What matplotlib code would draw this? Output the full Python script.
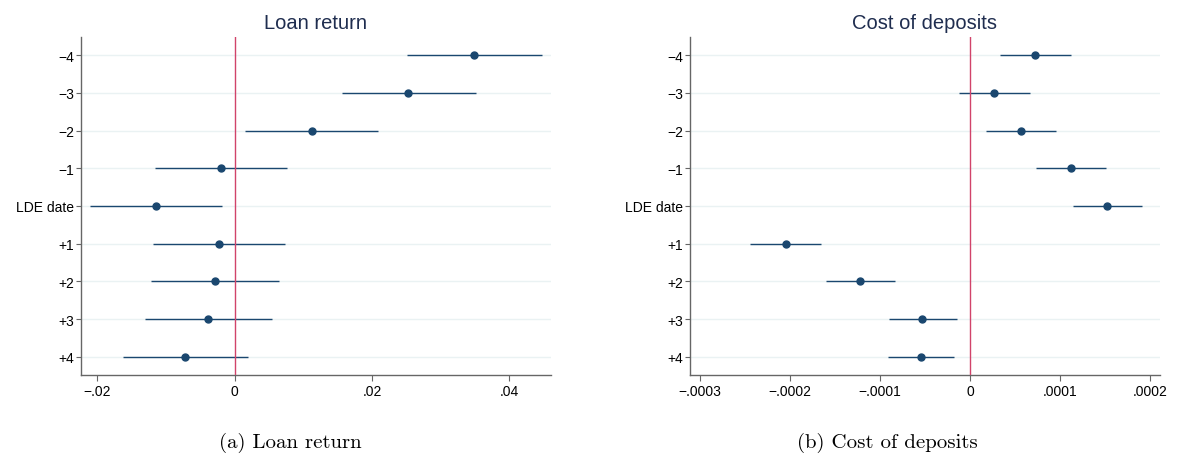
import matplotlib
matplotlib.use("Agg")
import matplotlib.pyplot as plt

plt.rcParams['font.family'] = ['Liberation Sans', 'DejaVu Sans']

# event-time rows, top to bottom
periods = ["\u22124", "\u22123", "\u22122", "\u22121", "LDE date", "+1", "+2", "+3", "+4"]

# loan return: point estimate and 95% CI bounds
loan_coef = [0.0349, 0.0253, 0.0112, -0.0020, -0.0115, -0.0023, -0.0029, -0.0039, -0.0072]
loan_lo = [0.0251, 0.0156, 0.0015, -0.0116, -0.0211, -0.0119, -0.0122, -0.0131, -0.0162]
loan_hi = [0.0448, 0.0351, 0.0209, 0.0076, -0.0019, 0.0073, 0.0065, 0.0054, 0.0019]

# cost of deposits: point estimate and 95% CI bounds
dep_coef = [7.2e-5, 2.7e-5, 5.6e-5, 11.2e-5, 15.2e-5, -20.5e-5, -12.2e-5, -5.3e-5, -5.5e-5]
dep_lo = [3.3e-5, -1.2e-5, 1.8e-5, 7.3e-5, 11.4e-5, -24.4e-5, -16.0e-5, -9.0e-5, -9.1e-5]
dep_hi = [11.2e-5, 6.6e-5, 9.5e-5, 15.1e-5, 19.1e-5, -16.6e-5, -8.3e-5, -1.5e-5, -1.8e-5]

loan_ticks = [-0.02, 0, 0.02, 0.04]
loan_ticklabels = ["\u2212.02", "0", ".02", ".04"]
dep_ticks = [-3e-4, -2e-4, -1e-4, 0, 1e-4, 2e-4]
dep_ticklabels = ["\u2212.0003", "\u2212.0002", "\u2212.0001", "0", ".0001", ".0002"]

NAVY = "#1a476f"
GRID = "#eaf2f3"
RED = "#d1436a"
AXISGRAY = "#666666"


def coefplot(ax, coef, lo, hi, title, xticks, xticklabels, xlim):
    rows = list(range(len(periods)))
    for r in rows:
        ax.axhline(r, color=GRID, lw=1.0, zorder=0)
    for r, c, a, b in zip(rows, coef, lo, hi):
        ax.plot([a, b], [r, r], color=NAVY, lw=1.0, zorder=2, solid_capstyle="butt")
    ax.axvline(0, color=RED, lw=1.0, zorder=3)
    ax.plot(coef, rows, "o", color=NAVY, ms=5, zorder=4, linestyle="none")

    ax.set_ylim(8.49, -0.49)
    ax.set_xlim(*xlim)
    ax.set_yticks(rows)
    ax.set_yticklabels(periods)
    ax.set_xticks(xticks)
    ax.set_xticklabels(xticklabels)
    ax.tick_params(axis="y", length=3.5, width=0.8, color=AXISGRAY, pad=1.5, labelsize=10)
    ax.tick_params(axis="x", length=4, width=0.8, color=AXISGRAY, pad=2.5, labelsize=10)
    for s in ["top", "right"]:
        ax.spines[s].set_visible(False)
    for s in ["left", "bottom"]:
        ax.spines[s].set_color(AXISGRAY)
        ax.spines[s].set_linewidth(1.0)
    ax.set_title(title, fontsize=14.5, color="#1f2d4f", pad=6)


fig = plt.figure(figsize=(11.78, 4.60), dpi=100)
ax1 = fig.add_axes([0.0688, 0.182, 0.3987, 0.736])
ax2 = fig.add_axes([0.5857, 0.182, 0.3987, 0.736])

coefplot(ax1, loan_coef, loan_lo, loan_hi, "Loan return",
         loan_ticks, loan_ticklabels, (-0.02237, 0.04603))
coefplot(ax2, dep_coef, dep_lo, dep_hi, "Cost of deposits",
         dep_ticks, dep_ticklabels, (-3.112e-4, 2.104e-4))

# subfigure captions
fig.text(290 / 1178, 1 - 443 / 460, "(a) Loan return", family="cmr10",
         fontsize=15, ha="center", va="center")
fig.text(887 / 1178, 1 - 443 / 460, "(b) Cost of deposits", family="cmr10",
         fontsize=15, ha="center", va="center")

fig.savefig("out.png", dpi=100)
